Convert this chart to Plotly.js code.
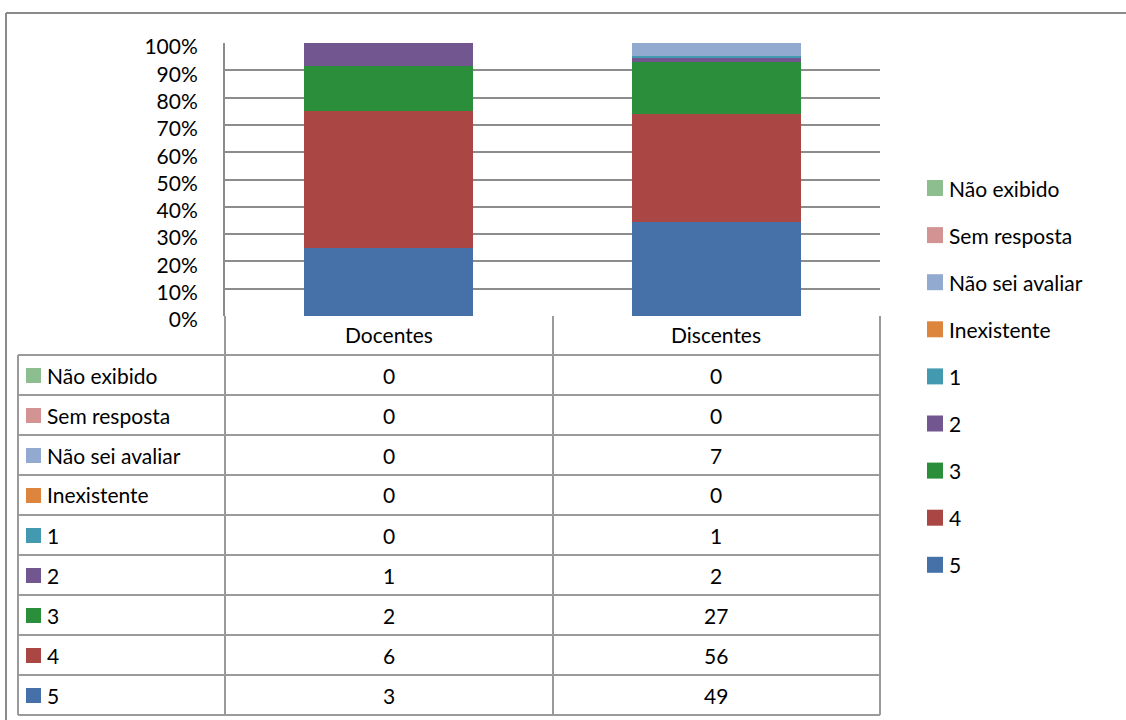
<!DOCTYPE html>
<html>
<head>
<meta charset="utf-8">
<script src="https://cdn.plot.ly/plotly-3.0.1.min.js"></script>
<style>html,body{margin:0;padding:0;background:#fff;}#chart{width:1126px;height:720px;}</style>
</head>
<body>
<div id="chart"></div>
<script>
// ---- data (stack order bottom -> top) ----
const categories = ['Docentes', 'Discentes'];
const seriesNames = ['5', '4', '3', '2', '1', 'Inexistente', 'Não sei avaliar', 'Sem resposta', 'Não exibido'];
const docentes = [3, 6, 2, 1, 0, 0, 0, 0, 0];
const discentes = [49, 56, 27, 2, 1, 0, 7, 0, 0];
const seriesColors = ['#4571A8', '#AA4744', '#2B8E3A', '#71568F', '#439AB0', '#DE853D', '#93AAD0', '#D49393', '#8DBE8F'];
const yTicks = [0, 10, 20, 30, 40, 50, 60, 70, 80, 90, 100];

// ---- geometry (pixels) ----
const W = 1126, H = 720;
const PL = 225, PR = 880, PT = 43, PB = 316;
const FONT = 'Lato, "Open Sans", sans-serif';
const FS = 21;
const LINE = '#9a9a9a';
const px = v => (v - PL) / (PR - PL);
const py = v => (PB - v) / (PB - PT);

const traces = seriesNames.map((name, i) => ({
  type: 'bar',
  name: name,
  x: categories,
  y: [docentes[i], discentes[i]],
  marker: {color: seriesColors[i], line: {width: 0}},
  hoverinfo: 'x+y+name'
}));

const shapes = [];
const annotations = [];

// outer chart border (top and left)
shapes.push({type: 'line', xref: 'paper', yref: 'paper', x0: px(6), x1: px(W + 5), y0: py(13), y1: py(13), line: {color: '#8a8a8a', width: 2}});
shapes.push({type: 'line', xref: 'paper', yref: 'paper', x0: px(6), x1: px(6), y0: py(13), y1: py(H + 5), line: {color: '#8a8a8a', width: 2}});

// data table
const headTop = 316, headBot = 355, rowH = 40;
const nRows = seriesNames.length;
const tableBot = headBot + nRows * rowH;
const colX = [18, 225, 553, 880];
// verticals
shapes.push({type: 'line', xref: 'paper', yref: 'paper', x0: px(colX[0]), x1: px(colX[0]), y0: py(headBot), y1: py(tableBot), line: {color: LINE, width: 2}});
for (let c = 1; c < colX.length; c++) {
  shapes.push({type: 'line', xref: 'paper', yref: 'paper', x0: px(colX[c]), x1: px(colX[c]), y0: py(headTop), y1: py(tableBot), line: {color: LINE, width: 2}});
}
// horizontals
for (let r = 0; r <= nRows; r++) {
  const yy = headBot + r * rowH;
  shapes.push({type: 'line', xref: 'paper', yref: 'paper', x0: px(colX[0]), x1: px(colX[3]), y0: py(yy), y1: py(yy), line: {color: LINE, width: 2}});
}
// header labels
categories.forEach(cat => {
  annotations.push({xref: 'x', yref: 'paper', x: cat, y: py(headTop + 18), text: cat, showarrow: false, xanchor: 'center', yanchor: 'middle', font: {family: FONT, size: FS, color: '#000'}});
});
// rows (top row = last series)
seriesNames.forEach((name, i) => {
  const r = nRows - 1 - i;
  const cy = headBot + r * rowH + rowH / 2;
  shapes.push({type: 'rect', xref: 'paper', yref: 'paper', x0: px(26), x1: px(41), y0: py(cy - 7), y1: py(cy + 8), fillcolor: seriesColors[i], line: {width: 0}});
  annotations.push({xref: 'paper', yref: 'paper', x: px(45), y: py(cy), text: name, showarrow: false, xanchor: 'left', yanchor: 'middle', font: {family: FONT, size: FS, color: '#000'}});
  annotations.push({xref: 'x', yref: 'paper', x: categories[0], y: py(cy), text: String(docentes[i]), showarrow: false, xanchor: 'center', yanchor: 'middle', font: {family: FONT, size: FS, color: '#000'}});
  annotations.push({xref: 'x', yref: 'paper', x: categories[1], y: py(cy), text: String(discentes[i]), showarrow: false, xanchor: 'center', yanchor: 'middle', font: {family: FONT, size: FS, color: '#000'}});
});

// legend (right side)
const legTop = 188, legStep = 47.1;
seriesNames.forEach((name, i) => {
  const r = nRows - 1 - i;
  const cy = legTop + r * legStep;
  shapes.push({type: 'rect', xref: 'paper', yref: 'paper', x0: px(927), x1: px(943), y0: py(cy - 8), y1: py(cy + 8), fillcolor: seriesColors[i], line: {width: 0}});
  annotations.push({xref: 'paper', yref: 'paper', x: px(947), y: py(cy), text: name, showarrow: false, xanchor: 'left', yanchor: 'middle', font: {family: FONT, size: FS, color: '#000'}});
});

const layout = {
  width: W, height: H,
  margin: {l: PL, r: W - PR, t: PT, b: H - PB, pad: 0},
  paper_bgcolor: '#fff', plot_bgcolor: '#fff',
  barmode: 'stack', barnorm: 'percent', bargap: 0.484,
  showlegend: false,
  font: {family: FONT, size: FS, color: '#000'},
  xaxis: {type: 'category', showticklabels: false, showgrid: false, zeroline: false, showline: false, ticks: '', fixedrange: true},
  yaxis: {range: [0, 100], tickvals: yTicks, ticktext: yTicks.map(v => v + '%'), showgrid: true, gridcolor: '#8c8c8c', gridwidth: 2,
          zeroline: false, showline: true, linecolor: '#8c8c8c', linewidth: 2, ticks: '', ticklabelstandoff: 21, ticklabelshift: 4,
          tickfont: {family: FONT, size: FS, color: '#000'}, fixedrange: true},
  shapes: shapes,
  annotations: annotations
};

Plotly.newPlot('chart', traces, layout, {displayModeBar: false, staticPlot: true});
</script>
</body>
</html>
